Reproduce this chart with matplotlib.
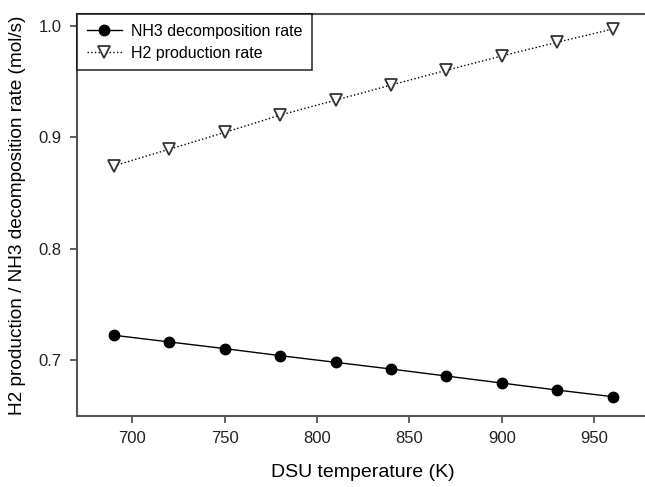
import matplotlib.pyplot as plt
import numpy as np

plt.rcParams['font.family'] = ['Liberation Sans', 'DejaVu Sans']

temp = [690, 720, 750, 780, 810, 840, 870, 900, 930, 960]
nh3_rate = [0.7222, 0.7162, 0.7102, 0.7039, 0.6979, 0.6919, 0.6856, 0.6793, 0.6730, 0.6671]
h2_rate = [0.8742, 0.8892, 0.9042, 0.9198, 0.9332, 0.9467, 0.9600, 0.9728, 0.9851, 0.9970]

fig = plt.figure(figsize=(6.45, 4.87), dpi=100)
ax = fig.add_axes([77/645, 1 - 415.7/487, (649.5 - 77)/645, (415.7 - 14)/487])

ax.plot(temp, nh3_rate, color="black", linewidth=1, marker="o", markersize=7.5,
        label="NH3 decomposition rate")
ax.plot(temp, h2_rate, color="black", linewidth=1, linestyle=":", marker="v",
        markersize=8, markerfacecolor="white", markeredgecolor="#333333",
        markeredgewidth=1.3, label="H2 production rate")

ax.set_xlim(670, 980)
ax.set_ylim(0.65, 1.0105)
ax.set_xticks([700, 750, 800, 850, 900, 950])
ax.set_yticks([0.7, 0.8, 0.9, 1.0])
ax.set_yticklabels(["0.7", "0.8", "0.9", "1.0"])

for s in ax.spines.values():
    s.set_color("#555555")
    s.set_linewidth(1.5)
ax.tick_params(direction="out", length=5, width=1.3, color="#555555",
               labelsize=12, pad=6, labelcolor="#222222")

ax.set_xlabel("DSU temperature (K)", fontsize=14, labelpad=13)
ax.set_ylabel("H2 production / NH3 decomposition rate (mol/s)", fontsize=13.7, labelpad=9)

leg = ax.legend(loc="upper left", fontsize=11.5, frameon=True, fancybox=False,
                borderaxespad=0, handlelength=2.2, borderpad=0.6, labelspacing=0.45,
                handletextpad=0.55)
leg.get_frame().set_edgecolor("black")
leg.get_frame().set_linewidth(1.2)

fig.savefig("out.png", dpi=100)
